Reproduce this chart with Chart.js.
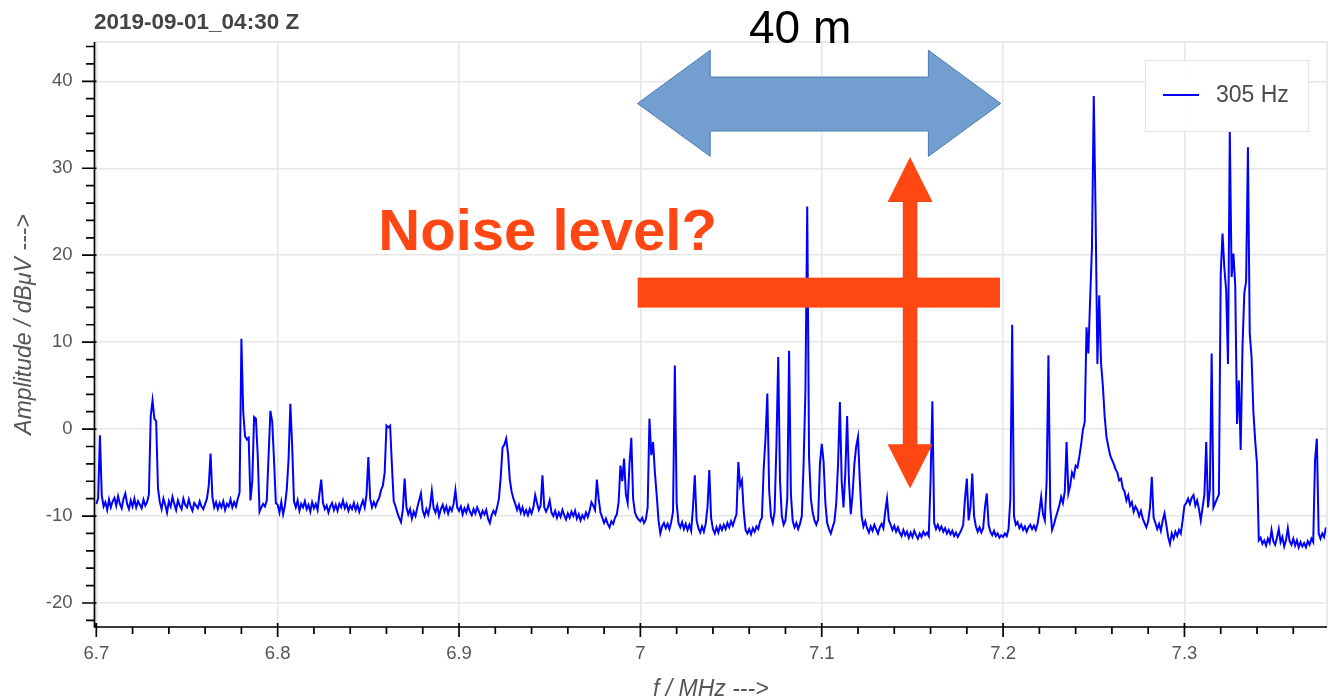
<!DOCTYPE html>
<html><head><meta charset="utf-8">
<script src="https://cdn.jsdelivr.net/npm/chart.js@4.4.1/dist/chart.umd.min.js"></script>
<style>html,body{margin:0;padding:0;background:#fff;}#wrap{width:1333px;height:700px;position:relative;}</style>
</head><body><div id="wrap"><canvas id="c"></canvas></div>
<script>
// ---------- texts ----------
const titleText = '2019-09-01_04:30 Z';
const seriesLabel = '305 Hz';
const xAxisTitle = 'f / MHz --->';
const yAxisTitle = 'Amplitude / dBμV --->';
const bandLabel = '40 m';
const noiseLabel = 'Noise level?';

// ---------- data: amplitude (dBµV) sampled every 1 kHz, one array per 100 kHz ----------
const stepMHz = 0.001;
const segmentStartsMHz = [6.700, 6.800, 6.900, 7.000, 7.100, 7.200, 7.300];
const amp_670 = [-8.6,-8.0,-0.7,-7.6,-8.9,-8.4,-9.3,-8.1,-9.0,-8.3,
 -7.9,-8.8,-7.7,-8.6,-9.1,-8.0,-7.4,-8.6,-9.2,-8.2,
 -8.9,-8.0,-9.0,-8.3,-8.7,-9.1,-8.1,-8.8,-8.4,-7.5,
 1.5,3.3,1.2,0.9,-6.8,-8.4,-9.2,-8.0,-8.7,-9.6,
 -8.3,-8.9,-7.8,-8.6,-9.3,-8.2,-8.8,-9.2,-8.0,-8.7,
 -9.0,-8.1,-8.9,-9.4,-8.5,-8.8,-9.1,-8.3,-8.9,-9.2,
 -8.6,-8.0,-6.5,-2.8,-7.8,-9.0,-8.4,-9.2,-8.5,-9.0,
 -8.3,-9.3,-8.6,-8.9,-8.1,-9.0,-8.4,-8.9,-8.0,-7.3,
 10.4,2.0,-0.8,-1.2,-1.0,-8.2,-6.0,1.4,1.2,-3.0,
 -9.5,-9.0,-8.6,-8.9,-8.2,-3.0,2.1,0.8,-3.6,-8.5];
const amp_680 = [-8.7,-9.6,-8.4,-9.8,-8.8,-7.0,-3.5,2.9,-2.0,-8.3,
 -9.0,-8.2,-9.4,-8.6,-9.0,-8.3,-9.2,-8.7,-9.5,-8.4,
 -9.1,-8.6,-9.3,-7.5,-5.8,-8.5,-9.2,-8.8,-9.6,-8.9,
 -8.5,-9.3,-8.7,-9.4,-8.6,-9.0,-8.2,-9.1,-8.6,-9.4,
 -8.8,-9.2,-8.5,-9.3,-8.7,-9.5,-8.8,-8.2,-9.0,-7.5,
 -3.2,-8.0,-9.0,-8.4,-8.9,-8.3,-7.9,-7.0,-6.5,-5.0,
 0.4,0.2,0.4,-4.2,-8.3,-8.9,-9.6,-10.2,-10.7,-9.3,
 -5.7,-9.0,-9.8,-9.2,-10.3,-9.5,-10.0,-9.0,-8.2,-7.4,
 -9.4,-10.0,-9.2,-9.8,-8.9,-7.1,-9.1,-9.6,-8.8,-10.0,
 -9.2,-8.7,-9.5,-8.9,-9.7,-9.0,-9.4,-8.6,-7.0,-9.0];
const amp_690 = [-9.4,-8.9,-9.8,-9.1,-9.6,-8.8,-9.5,-9.9,-9.2,-9.7,
 -9.0,-9.5,-10.1,-9.4,-9.8,-9.3,-10.3,-10.8,-9.9,-9.4,
 -9.8,-9.0,-8.0,-5.5,-2.1,-1.8,-1.1,-2.8,-5.8,-7.2,
 -8.0,-8.6,-9.3,-8.7,-9.6,-9.0,-9.8,-9.3,-9.9,-9.2,
 -9.7,-9.0,-7.6,-8.5,-9.3,-8.8,-5.3,-9.0,-9.5,-9.0,
 -8.2,-9.6,-10.0,-9.4,-10.2,-9.6,-10.1,-9.3,-9.9,-10.4,
 -9.7,-10.2,-9.5,-10.0,-9.4,-10.3,-9.8,-10.5,-9.9,-10.3,
 -9.6,-10.1,-9.4,-8.4,-8.8,-9.3,-5.8,-8.0,-9.6,-10.2,
 -10.8,-10.3,-10.9,-11.3,-10.6,-10.9,-10.2,-9.8,-8.4,-4.2,
 -6.0,-3.4,-7.5,-8.5,-4.0,-1.0,-8.0,-9.6,-10.1,-10.4];
const amp_700 = [-10.6,-10.2,-10.8,-10.4,-9.0,1.2,-3.0,-1.5,-5.0,-7.6,
 -10.5,-12.0,-11.2,-10.8,-11.4,-10.9,-11.5,-10.7,-9.5,7.3,
 -8.5,-10.8,-11.3,-10.7,-11.5,-10.9,-11.6,-11.0,-11.7,-9.0,
 -5.3,-10.5,-11.4,-11.9,-11.2,-11.8,-10.9,-9.0,-4.7,-10.2,
 -11.5,-12.0,-11.3,-11.9,-11.1,-11.6,-11.0,-11.5,-10.8,-11.3,
 -10.6,-11.1,-10.4,-9.8,-3.8,-6.5,-5.9,-9.5,-11.6,-12.0,
 -11.5,-12.1,-11.4,-11.8,-11.2,-11.5,-10.6,-10.2,-4.5,-1.0,
 4.1,-7.0,-10.0,-10.8,-9.5,-2.0,8.3,-6.0,-10.0,-11.0,
 -10.5,-8.0,9.0,-7.5,-10.6,-11.3,-10.8,-11.5,-10.9,-10.0,
 -4.0,4.4,25.6,-3.2,-8.0,-9.6,-10.5,-11.0,-10.4,-4.0];
const amp_710 = [-1.7,-3.7,-8.5,-10.8,-11.5,-12.0,-11.3,-10.6,-8.5,-4.0,
 3.1,-6.0,-9.0,-5.0,1.5,-6.0,-9.8,-7.5,-4.0,-2.0,
 -0.9,-6.0,-10.0,-11.2,-10.6,-11.4,-11.9,-11.2,-11.7,-11.0,
 -11.5,-12.0,-11.3,-10.9,-11.4,-9.5,-8.0,-10.5,-11.0,-11.6,
 -11.1,-11.8,-11.3,-11.9,-12.3,-11.6,-12.2,-11.8,-12.5,-11.9,
 -12.4,-11.7,-12.2,-12.6,-12.0,-12.4,-11.8,-12.2,-11.9,-12.3,
 -6.0,3.2,-10.8,-11.5,-11.0,-11.6,-11.2,-11.8,-11.4,-12.0,
 -11.6,-12.1,-11.7,-12.3,-11.9,-12.4,-12.0,-11.6,-11.0,-8.0,
 -5.7,-10.5,-9.0,-5.1,-10.0,-11.2,-11.8,-11.3,-11.9,-11.4,
 -9.0,-7.4,-11.0,-11.8,-12.2,-11.7,-12.3,-12.0,-12.5,-12.2];
const amp_720 = [-12.4,-12.0,-12.3,-11.5,-8.0,12.0,-10.0,-11.0,-10.7,-11.4,
 -11.0,-11.6,-11.2,-11.8,-11.3,-11.0,-11.5,-11.1,-11.6,-10.9,
 -9.5,-7.8,-9.8,-10.5,-6.0,8.5,-9.0,-11.6,-11.0,-10.2,
 -9.5,-8.8,-7.8,-8.5,-7.2,-1.5,-7.4,-6.5,-5.0,-5.5,
 -4.2,-4.4,-3.2,-1.8,-0.1,0.8,11.7,8.7,15.0,20.9,
 38.3,24.8,7.5,15.4,7.6,5.0,1.5,-0.9,-2.0,-3.0,
 -3.5,-4.0,-4.6,-5.0,-5.9,-5.7,-6.8,-7.2,-8.2,-7.6,
 -8.8,-8.4,-9.5,-8.9,-9.3,-10.0,-9.4,-10.3,-10.8,-11.3,
 -10.6,-9.0,-5.5,-10.2,-10.8,-11.5,-10.9,-11.7,-10.5,-9.7,
 -11.0,-12.4,-13.2,-12.0,-12.6,-11.8,-12.3,-11.6,-12.0,-10.5];
const amp_730 = [-8.8,-8.5,-8.0,-8.6,-7.9,-7.6,-8.8,-8.2,-9.2,-10.5,
 -9.0,-7.5,-1.5,-9.0,-7.0,8.7,-9.0,-8.5,-8.0,-7.5,
 17.9,22.5,18.5,16.0,7.5,34.2,17.5,20.2,16.5,0.6,
 5.6,-2.4,9.4,15.6,17.0,32.4,11.0,8.3,2.0,-1.3,
 -4.0,-12.8,-12.5,-13.2,-12.8,-13.4,-12.6,-13.1,-11.6,-12.9,
 -13.3,-12.5,-11.5,-13.0,-12.4,-13.5,-12.8,-11.4,-12.9,-13.3,
 -12.6,-13.4,-12.8,-13.6,-13.0,-13.5,-13.1,-13.6,-12.9,-13.3,
 -12.6,-13.0,-3.6,-1.1,-12.0,-12.6,-12.0,-12.4,-11.3];
const ampSegments = [amp_670, amp_680, amp_690, amp_700, amp_710, amp_720, amp_730];

// ---------- axes ----------
const xMin = 6.699, xMax = 7.3786;
const yMin = -22.76, yMax = 44.52;
const xMajorTicks = [6.7, 6.8, 6.9, 7.0, 7.1, 7.2, 7.3];
const yMajorTicks = [-20, -10, 0, 10, 20, 30, 40];
const xMinorPerMajor = 5, yMinorPerMajor = 5;

// ---------- overlay annotations (data coordinates) ----------
const bandArrow = {x0: 6.9984, xh0: 7.0385, xh1: 7.1588, x1: 7.1987, yMid: 37.45, yHeadTop: 43.57, yHeadBot: 31.37, yShaftTop: 40.49, yShaftBot: 34.28};
const bandText = {x: 7.0881, y: 44.41};
const noiseText = {x: 6.8555, y: 20.56};
const noiseBar = {x0: 6.9985, x1: 7.1983, y0: 13.97, y1: 17.42};
const noiseArrow = {x: 7.1487, halfShaft: 0.00402, halfHead: 0.0124, yTip: 31.29, yHeadTop: 26.12, yHeadBot: -1.75, yTipBot: -6.84};

// ---------- build points ----------
const points = [];
ampSegments.forEach((seg, s) => {
  seg.forEach((v, k) => points.push({x: +(segmentStartsMHz[s] + k * stepMHz).toFixed(4), y: v}));
});

function buildTicks(majors, perMajor, lo, hi) {
  const step = (majors[1] - majors[0]) / perMajor;
  const out = [];
  const first = Math.ceil((lo - majors[0]) / step - 1e-9);
  const last = Math.floor((hi - majors[0]) / step + 1e-9);
  for (let i = first; i <= last; i++) out.push(+(majors[0] + i * step).toFixed(6));
  return out;
}
const xTickValues = buildTicks(xMajorTicks, xMinorPerMajor, xMin, xMax);
const yTickValues = buildTicks(yMajorTicks, yMinorPerMajor, yMin, yMax);
const isMajor = (v, list) => list.some(m => Math.abs(m - v) < 1e-6);

const FONT = "'Liberation Sans', Arial, Helvetica, sans-serif";
const gridColor = '#e6e6e6';
const textColor = '#555';
const orange = '#ff4713';

const overlay = {
  id: 'overlay',
  afterDatasetsDraw(chart) {
    const {ctx, chartArea: a, scales: {x, y}} = chart;
    ctx.save();
    // plot frame
    ctx.strokeStyle = '#e3e3e3'; ctx.lineWidth = 1.5;
    ctx.strokeRect(a.left, a.top, a.right - a.left, a.bottom - a.top);

    // legend
    const ds = chart.data.datasets[0];
    const bx = a.right - 182, by = a.top + 18, bw = 163, bh = 71;
    ctx.fillStyle = 'rgba(255,255,255,0.95)';
    ctx.fillRect(bx, by, bw, bh);
    ctx.strokeStyle = '#e5e5e5'; ctx.lineWidth = 1.2;
    ctx.strokeRect(bx + 0.5, by + 0.5, bw, bh);
    ctx.strokeStyle = ds.borderColor; ctx.lineWidth = 1.8;
    ctx.beginPath(); ctx.moveTo(bx + 18, by + 35); ctx.lineTo(bx + 54, by + 35); ctx.stroke();
    ctx.fillStyle = '#4a4a4a'; ctx.font = '23px ' + FONT; ctx.textAlign = 'left'; ctx.textBaseline = 'alphabetic';
    ctx.fillText(ds.label, bx + 71, by + 42);

    // axes lines + tick marks
    ctx.strokeStyle = '#000'; ctx.lineWidth = 1.7;
    ctx.beginPath();
    ctx.moveTo(a.left, a.top); ctx.lineTo(a.left, a.bottom + 0.8);
    ctx.moveTo(a.left - 0.8, a.bottom); ctx.lineTo(a.right, a.bottom);
    xTickValues.forEach(v => {
      const px = x.getPixelForValue(v), mj = isMajor(v, xMajorTicks);
      ctx.moveTo(px, a.bottom - (mj ? 4 : 0)); ctx.lineTo(px, a.bottom + (mj ? 10 : 7));
    });
    yTickValues.forEach(v => {
      const py = y.getPixelForValue(v), mj = isMajor(v, yMajorTicks);
      ctx.moveTo(a.left + (mj ? 2 : 0), py); ctx.lineTo(a.left - (mj ? 12.5 : 8.5), py);
    });
    ctx.stroke();

    // blue double arrow (40 m band)
    const X = v => x.getPixelForValue(v), Y = v => y.getPixelForValue(v);
    const b = bandArrow;
    ctx.beginPath();
    ctx.moveTo(X(b.x0), Y(b.yMid));
    ctx.lineTo(X(b.xh0), Y(b.yHeadTop));
    ctx.lineTo(X(b.xh0), Y(b.yShaftTop));
    ctx.lineTo(X(b.xh1), Y(b.yShaftTop));
    ctx.lineTo(X(b.xh1), Y(b.yHeadTop));
    ctx.lineTo(X(b.x1), Y(b.yMid));
    ctx.lineTo(X(b.xh1), Y(b.yHeadBot));
    ctx.lineTo(X(b.xh1), Y(b.yShaftBot));
    ctx.lineTo(X(b.xh0), Y(b.yShaftBot));
    ctx.lineTo(X(b.xh0), Y(b.yHeadBot));
    ctx.closePath();
    ctx.fillStyle = '#729fcf'; ctx.fill();
    ctx.strokeStyle = '#4c7cb2'; ctx.lineWidth = 1; ctx.stroke();

    // "40 m"
    ctx.fillStyle = '#000'; ctx.font = '46px ' + FONT; ctx.textAlign = 'center';
    ctx.fillText(bandLabel, X(bandText.x), Y(bandText.y));

    // "Noise level?"
    ctx.fillStyle = orange; ctx.font = 'bold 58px ' + FONT; ctx.textAlign = 'left';
    ctx.fillText(noiseLabel, X(noiseText.x), Y(noiseText.y));

    // orange horizontal bar
    ctx.fillRect(X(noiseBar.x0), Y(noiseBar.y1), X(noiseBar.x1) - X(noiseBar.x0), Y(noiseBar.y0) - Y(noiseBar.y1));

    // orange vertical double arrow
    const n = noiseArrow;
    ctx.beginPath();
    ctx.moveTo(X(n.x), Y(n.yTip));
    ctx.lineTo(X(n.x + n.halfHead), Y(n.yHeadTop));
    ctx.lineTo(X(n.x + n.halfShaft), Y(n.yHeadTop));
    ctx.lineTo(X(n.x + n.halfShaft), Y(n.yHeadBot));
    ctx.lineTo(X(n.x + n.halfHead), Y(n.yHeadBot));
    ctx.lineTo(X(n.x), Y(n.yTipBot));
    ctx.lineTo(X(n.x - n.halfHead), Y(n.yHeadBot));
    ctx.lineTo(X(n.x - n.halfShaft), Y(n.yHeadBot));
    ctx.lineTo(X(n.x - n.halfShaft), Y(n.yHeadTop));
    ctx.lineTo(X(n.x - n.halfHead), Y(n.yHeadTop));
    ctx.closePath();
    ctx.fill();

    // title
    ctx.fillStyle = '#444'; ctx.font = 'bold 22.5px ' + FONT; ctx.textAlign = 'left';
    ctx.fillText(titleText, a.left - 0.5, a.top - 13);

    // axis titles
    ctx.font = 'italic 23px ' + FONT; ctx.fillStyle = textColor; ctx.textAlign = 'center';
    ctx.fillText(xAxisTitle, (a.left + a.right) / 2, a.bottom + 69);
    ctx.save();
    ctx.translate(31, (a.top + a.bottom) / 2 - 10);
    ctx.rotate(-Math.PI / 2);
    ctx.fillText(yAxisTitle, 0, 0);
    ctx.restore();
    ctx.restore();
  }
};

new Chart(document.getElementById('c'), {
  type: 'line',
  data: {datasets: [{label: seriesLabel, data: points, borderColor: '#0000ff', borderWidth: 2, pointRadius: 0, tension: 0, fill: false}]},
  options: {
    responsive: true, maintainAspectRatio: false, animation: false,
    layout: {padding: {top: 42, right: 6, left: 0, bottom: 0}},
    plugins: {legend: {display: false}, tooltip: {enabled: false}, title: {display: false}},
    scales: {
      x: {
        type: 'linear', min: xMin, max: xMax,
        afterBuildTicks: s => { s.ticks = xTickValues.map(v => ({value: v})); },
        afterFit: s => { s.height = 73; },
        ticks: {autoSkip: false, maxRotation: 0, minRotation: 0, padding: 16, color: textColor,
          font: {family: FONT, size: 18.5},
          callback: v => isMajor(v, xMajorTicks) ? String(+(+v).toFixed(1)) : ''},
        grid: {drawTicks: false, lineWidth: 1.5, color: c => (c.tick && isMajor(c.tick.value, xMajorTicks)) ? gridColor : 'rgba(0,0,0,0)'},
        border: {display: false}
      },
      y: {
        type: 'linear', min: yMin, max: yMax,
        afterBuildTicks: s => { s.ticks = yTickValues.map(v => ({value: v})); },
        afterFit: s => { s.width = 94.5; },
        ticks: {autoSkip: false, padding: 22, color: textColor,
          font: {family: FONT, size: 18.5},
          callback: v => isMajor(v, yMajorTicks) ? String(Math.round(v)) : ''},
        grid: {drawTicks: false, lineWidth: 1.5, color: c => (c.tick && isMajor(c.tick.value, yMajorTicks)) ? gridColor : 'rgba(0,0,0,0)'},
        border: {display: false}
      }
    }
  },
  plugins: [overlay]
});
</script>
</body></html>
